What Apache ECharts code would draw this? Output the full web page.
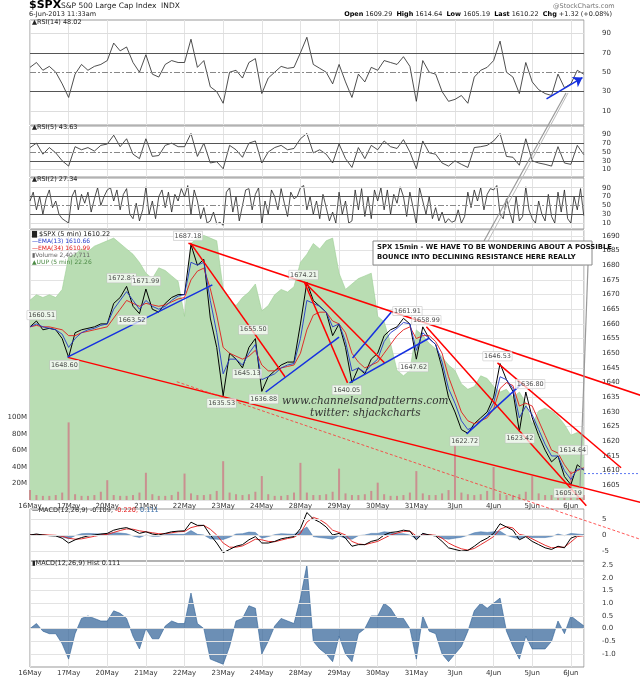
<!DOCTYPE html>
<html><head><meta charset="utf-8">
<script src="https://cdn.jsdelivr.net/npm/echarts@6/dist/echarts.min.js"></script>
<style>html,body{margin:0;padding:0;background:#fff}#c{width:640px;height:679px}</style>
</head><body><div id="c"></div>
<script>
const dayLabels=['16May','17May','20May','21May','22May','23May','24May','28May','29May','30May','31May','3Jun','4Jun','5Jun','6Jun'];
const XMAX=14.34;
const price=[1659,1661,1658,1658.5,1658,1655, 1648.6,1657,1658,1658.5,1659,1660, 1660,1667,1669,1672.8,1666,1663.5, 1671.9,1665,1664,1667,1669,1670, 1670,1687,1680,1682,1662,1652, 1635.5,1650,1648,1645,1652,1655, 1637,1642,1644,1646,1647,1647, 1660,1674.2,1668,1666,1664,1656, 1660,1652,1640,1645,1643,1648, 1650,1656,1658,1659,1661.9,1660, 1648,1659,1655,1653,1645,1635, 1630,1624,1622.7,1626,1628,1630, 1635,1646.5,1641,1637,1623.4,1636.8, 1628,1622,1617,1613,1615,1608, 1605.2,1612,1610.2];
const ema34=[1659,1659.5,1659,1659,1658.5,1658, 1656,1656,1657,1657.5,1658,1658.5, 1659,1662,1665,1668,1667,1666, 1667,1666.5,1666,1666.5,1667.5,1668.5, 1669,1675,1678,1679,1672,1663, 1652,1650,1649,1648,1649,1651, 1646,1644,1644,1645,1645.5,1646, 1650,1658,1663,1664,1664,1661, 1660,1657,1650,1647,1645,1646, 1647,1650,1653,1656,1658,1659, 1655,1656,1656,1654,1650,1642, 1636,1630,1627,1626,1627,1628, 1631,1638,1640,1639,1632,1633, 1632,1627,1622,1617,1616,1612, 1609,1610,1611];
const ema13=[1659,1660,1659,1658.5,1658,1656.5, 1652,1655,1657,1658,1658.5,1659.5, 1660,1665,1668,1671,1668,1665, 1668,1666,1665,1666,1668,1669.5, 1670,1681,1680,1681,1668,1657, 1643,1648,1648,1646,1650,1653, 1641,1642,1643,1645,1646,1646.5, 1655,1668,1667,1666,1664,1659, 1660,1654,1644,1645,1643.5,1646, 1648,1654,1657,1658.5,1660.5,1660, 1651,1657,1655,1653,1647,1638, 1633,1627,1624,1625,1627,1629, 1633,1642,1641,1638,1628,1632, 1629,1624,1619,1615,1615,1610, 1607,1610.5,1610.6];
const uup=[22.76,22.78,22.77,22.78,22.77,22.80, 22.92,22.93,22.95,22.94,22.96,22.97, 22.98,22.99,22.97,22.95,22.93,22.90, 22.86,22.84,22.88,22.87,22.85,22.83, 22.70,22.97,22.99,23.0,22.99,22.98, 22.80,22.76,22.74,22.77,22.79,22.82, 22.72,22.74,22.78,22.80,22.79,22.81, 22.90,22.93,22.97,22.95,22.98,22.99, 22.86,22.80,22.82,22.84,22.85,22.86, 22.70,22.68,22.60,22.50,22.48,22.50, 22.65,22.63,22.60,22.58,22.55,22.52, 22.50,22.45,22.43,22.44,22.48,22.47, 22.44,22.42,22.43,22.40,22.42,22.38, 22.30,22.35,22.36,22.35,22.33,22.30, 22.26,22.27,22.26];
const volume=[12,6,5,5,6,9, 94,7,5,5,6,10, 24,6,5,5,6,9, 33,7,5,5,6,10, 32,8,6,6,7,11, 47,9,7,6,7,10, 29,7,5,5,6,9, 45,9,6,6,7,10, 38,8,6,6,7,11, 21,7,5,5,6,9, 35,8,6,6,8,12, 67,9,7,6,7,11, 40,8,6,6,7,10, 29,8,6,6,7,10, 35,8,6];
const rsi14=[55,60,52,56,50,38, 24,48,58,52,56,58, 62,80,72,76,60,50, 68,48,45,58,62,60, 60,84,55,62,35,30, 18,50,52,44,60,64, 28,44,50,56,54,55, 70,86,58,54,50,38, 58,40,24,48,40,55, 52,62,60,58,66,56, 20,62,50,48,30,20, 22,26,18,45,52,55, 62,82,50,45,28,60, 40,32,28,26,48,34, 38,52,48];
const rsi5=[60,70,45,60,48,30, 18,62,55,60,52,65, 68,88,62,80,45,35, 80,40,42,65,70,62, 62,92,40,70,25,28, 12,65,55,38,70,75, 25,50,60,65,55,58, 80,92,48,55,45,25, 68,35,15,60,35,65, 55,75,62,58,78,50, 12,75,48,45,25,18, 30,22,15,60,62,65, 75,92,40,38,20,80, 30,25,22,18,62,25, 22,65,44];
const rsi2=[60,80,40,70,30,65,85,45,60,30,20,15, 10,70,85,40,75,55,80,35,65,90,50,70, 85,90,60,85,40,75,88,30,20,55,15,40, 92,30,60,20,70,85,45,80,35,75,60,88, 70,95,30,85,60,20,45,10,15,35,8,12, 5,80,90,35,70,15,50,85,88,40,75,90, 8,60,30,85,70,40,88,55,25,80,65,70, 90,95,40,70,30,60,20,75,45,15,35,10, 80,30,60,10,15,85,40,88,25,70,20,85, 60,90,40,85,30,75,55,92,70,25,80,45, 8,90,60,30,70,20,45,15,35,10,20,12, 15,40,10,25,80,45,85,60,90,40,75,88, 85,95,30,20,65,35,10,70,15,25,92,40, 20,10,60,30,15,75,25,10,80,35,85,20, 10,70,40,88,27];
const macd=[0,0.3,0,-0.2,-0.3,-1, -2.5,-1.5,-0.8,-0.3,0,0.3, 0.5,1.5,2,2.3,1.5,0.5, 1,0.3,0,0.5,1,1.2, 1.3,4,3,3,0,-2.5, -5.5,-4.5,-3.5,-3,-1.5,-0.5, -2.5,-2.5,-2,-1.2,-0.8,-0.5, 2,7,5,4,2.5,0, 0.5,-1,-3.5,-3,-3,-2, -1.5,0,0.8,1,1.5,1.2, -1.5,0.5,0,-0.3,-2,-4, -4.5,-5,-4.8,-3.5,-2,-1, 0.5,3.5,2.5,1.5,-1.5,-0.5, -2,-3,-4,-4.5,-3.5,-4, -1,-0.2,-0.109];
const signal=[0,0.1,0.1,0,-0.1,-0.4, -1,-1.3,-1.2,-0.8,-0.4,0, 0.2,0.8,1.4,1.9,1.8,1.3, 1,0.7,0.4,0.4,0.7,1, 1.1,2.3,2.8,3,1.8,0, -2.5,-3.8,-3.8,-3.4,-2.4,-1.3, -1.5,-2,-2.1,-1.6,-1.1,-0.7, 0.5,4,5.5,4.8,3.5,1.5, 0.8,0,-2,-2.8,-3,-2.5, -2,-1,0,0.6,1.1,1.2, -0.3,0,0.1,-0.1,-1,-2.5, -3.5,-4.3,-4.7,-4.2,-3,-1.8, -0.5,1.8,2.6,2.2,0.2,-0.2, -1.2,-2.2,-3.2,-4,-3.8,-3.8, -2.2,-0.5,-0.22];
const hist=[0,0.2,-0.1,-0.2,-0.2,-0.6, -1.2,-0.2,0.4,0.5,0.4,0.3, 0.3,0.7,0.6,0.4,-0.3,-0.8, 0,-0.4,-0.4,0.1,0.3,0.2, 0.2,1.4,0.2,0,-1.2,-1.3, -1.4,-0.7,0.3,0.4,0.9,0.8, -1,-0.5,0.1,0.4,0.3,0.2, 1.2,2.5,-0.5,-0.8,-1,-1.3, -0.3,-1,-1.3,-0.2,0,0.5, 0.5,1,0.8,0.4,0.4,0, -1.2,0.5,-0.1,-0.2,-1,-1.3, -1,-0.7,-0.1,0.7,1,0.8, 1,1.2,-0.1,-0.7,-1.2,-0.3, -0.8,-0.8,-0.8,-0.5,0.3,-0.2, 0.5,0.3,0.111];
const priceLabels=[[0.3,1663,'1660.51'],[0.89,1646,'1648.60'],[2.37,1675.6,'1672.84'],[3.0,1674.6,'1671.99'],[2.64,1661.3,'1663.52'],[4.09,1690,'1687.18'],[4.96,1633,'1635.53'],[5.62,1643,'1645.13'],[5.78,1658,'1655.50'],[6.05,1634.4,'1636.88'],[7.08,1676.7,'1674.21'],[8.2,1637.5,'1640.05'],[9.77,1664.4,'1661.91'],[10.26,1661.3,'1658.99'],[9.93,1645.3,'1647.62'],[11.25,1620,'1622.72'],[12.1,1649,'1646.53'],[12.95,1639.5,'1636.80'],[12.68,1621,'1623.42'],[14.05,1617,'1614.64'],[13.94,1602.4,'1605.19']];
const redLines=[[[4.1,1687.5],[15.8,1635.7]],[[0.98,1648.6],[15.8,1599.2]],[[4.15,1687.6],[6.6,1642]],[[7.1,1674.3],[9.18,1646.7]],[[7.1,1674.3],[8.22,1639.9]],[[10.26,1659],[14.4,1598]],[[12.1,1646.7],[15.3,1611]]];
const dashedRed=[[3.8,1640.3],[15.8,1586.6]];
const blueLines=[[[0.97,1648.7],[4.72,1673.3]],[[6.1,1636.8],[8.0,1655.5]],[[8.27,1639.9],[10.34,1655.2]],[[8.35,1648.4],[9.35,1664]],[[11.3,1622.5],[12.72,1639.5]]];
const rsiArrow=[[13.37,22.5],[14.3,44.5]];

const STEP=1/6;
const pts=(a,s)=>a.map((v,i)=>[i*s,v]);
const L=30,R=56;
const grids=[
 {left:L,right:R,top:20,height:105},
 {left:L,right:R,top:126,height:51},
 {left:L,right:R,top:178,height:51},
 {left:L,right:R,top:230,height:270},
 {left:L,right:R,top:509,height:52},
 {left:L,right:R,top:561,height:106},
 {left:L,right:0,top:230,height:330}
].map(g=>Object.assign({show:true,borderColor:'#999',borderWidth:1,backgroundColor:'transparent'},g));
grids[6].show=false;
const xa=(gi,showLab)=>({type:'value',gridIndex:gi,min:0,max:XMAX,interval:1,
 axisLine:{show:false},axisTick:{show:false},
 splitLine:{show:true,lineStyle:{color:'#e3e3e3',width:1}},
 axisLabel:{show:showLab,fontSize:7,color:'#333',margin:3,fontFamily:'DejaVu Sans',
   formatter:v=>dayLabels[Math.round(v)]||''}});
const xAxis=[xa(0,false),xa(1,false),xa(2,false),xa(3,true),xa(4,false),xa(5,true),
 {type:'value',gridIndex:6,min:0,max:610/((640-L-R)/XMAX),show:false}];
const ya=(gi,min,max,vals,fmt)=>({type:'value',gridIndex:gi,position:'right',min:min,max:max,
 axisLine:{show:false},axisTick:{show:false},splitLine:{show:false},
 axisLabel:{fontSize:7,color:'#333',margin:18,customValues:vals,formatter:fmt||(v=>String(v)),fontFamily:'DejaVu Sans'}});
const yAxis=[
 ya(0,-4.4,103.8,[10,30,50,70,90]),
 ya(1,-6.7,108.9,[10,30,50,70,90]),
 ya(2,-3.3,112,[10,30,50,70,90]),
 Object.assign(ya(3,1600,1692,null),{interval:5,splitLine:{show:true,lineStyle:{color:'#e3e3e3'}},axisLabel:{fontSize:7,color:'#333',margin:18,fontFamily:'DejaVu Sans',formatter:v=>v>=1605&&v<=1690?String(v):''}}),
 {type:'value',gridIndex:3,position:'left',min:0,max:327,axisLine:{show:false},axisTick:{show:false},splitLine:{show:false},
   axisLabel:{fontSize:7,color:'#333',margin:3,customValues:[20,40,60,80,100],formatter:v=>v+'M',fontFamily:'DejaVu Sans'}},
 {type:'value',gridIndex:3,min:22.02,max:23.02,show:false},
 ya(4,-8.1,8.1,[-5,0,5]),
 ya(5,-1.51,2.66,[-1,-0.5,0,0.5,1,1.5,2,2.5],v=>v.toFixed(1)),
 {type:'value',gridIndex:6,min:1692-330/(270/92),max:1692,show:false}
];
const hl=(vals,col,type)=>({silent:true,symbol:'none',label:{show:false},animation:false,
 data:vals.map(v=>({yAxis:v,lineStyle:{color:col(v),type:type?type(v):'solid',width:1}}))});
const rsiLines=hl([10,30,50,70,90],v=>(v==30||v==70)?'#555':(v==50?'#888':'#ddd'),v=>v==50?[6,2,2,2]:'solid');
const ln=(name,data,xi,yi,col,w,extra)=>Object.assign({type:'line',name,data,xAxisIndex:xi,yAxisIndex:yi,symbol:'none',
 lineStyle:{color:col,width:w},animation:false},extra||{});
const series=[
 ln('RSI14',pts(rsi14,STEP),0,0,'#222',0.8,{markLine:rsiLines}),
 ln('RSI5',pts(rsi5,STEP),1,1,'#222',0.8,{markLine:rsiLines}),
 ln('RSI2',pts(rsi2,1/12),2,2,'#222',0.8,{markLine:rsiLines}),
 ln('UUP',pts(uup,STEP),3,5,'#9ccf94',0.6,{areaStyle:{color:'#b9ddb3',origin:'start',opacity:1},z:1}),
 {type:'bar',name:'Volume',data:pts(volume,STEP),xAxisIndex:3,yAxisIndex:4,barWidth:2,itemStyle:{color:'#c99090'},animation:false,z:2},
 ln('Price',pts(price,STEP),3,3,'#000',1,{z:4}),
 ln('EMA34',pts(ema34,STEP),3,3,'#e31b1b',0.9,{z:5}),
 ln('EMA13',pts(ema13,STEP),3,3,'#2338c8',0.9,{z:5}),
 {type:'scatter',data:priceLabels.map(p=>[p[0],p[1],p[2]]),xAxisIndex:3,yAxisIndex:3,symbolSize:0,animation:false,z:8,
  label:{show:true,position:'inside',formatter:p=>p.value[2],fontSize:6.5,color:'#222',backgroundColor:'rgba(255,255,255,0.9)',borderColor:'#bbb',borderWidth:0.5,padding:[1,1],fontFamily:'DejaVu Sans'}},
 ln('MACD',pts(macd,STEP),4,6,'#000',1,{z:4,markLine:hl([-5,0,5],v=>'#e3e3e3')}),
 ln('Signal',pts(signal,STEP),4,6,'#e31b1b',0.9,{z:3}),
 ln('HistS',pts(hist,STEP),4,6,'#3a6ea8',0.5,{areaStyle:{color:'#3a6ea8',origin:0},z:2}),
 ln('Hist',pts(hist,STEP),5,7,'#2d5f96',0.6,{areaStyle:{color:'#2d5f96',origin:0},markLine:hl([-1,-0.5,0,0.5,1,1.5,2,2.5],v=>'#e3e3e3')}),
 ln('RSIarrow',[],0,0,'#1530e0',1.5,{z:6,markLine:{silent:true,animation:false,symbol:['none','arrow'],symbolSize:9,label:{show:false},
   lineStyle:{color:'#1530e0',width:1.5,type:'solid'},data:[[{coord:rsiArrow[0]},{coord:rsiArrow[1]}]]}})
];
redLines.forEach((d,i)=>series.push(ln('r'+i,d,6,8,'#ff0000',1.5,{z:6})));
series.push(ln('rd',dashedRed,6,8,'#ff3030',0.8,{lineStyle:{color:'#ff3030',width:0.8,type:[3,2]},z:6}));
blueLines.forEach((d,i)=>series.push(ln('b'+i,d,6,8,'#1530e0',1.5,{z:6})));
series.push(ln('lastp',[[14.34,1609],[15.8,1609]],6,8,'#3355ee',0.8,{lineStyle:{color:'#3355ee',width:0.8,type:[2,2]}}));
const T=(x,y,text,style)=>({type:'text',left:x,top:y,style:Object.assign({text,fontSize:7,fill:'#222',fontFamily:'DejaVu Sans'},style||{}),z:50});
const chart=echarts.init(document.getElementById('c'),null,{renderer:'canvas'});
chart.setOption({backgroundColor:'#fff',animation:false,grid:grids,xAxis,yAxis,series,
 graphic:[
  T(29,0,'$SPX',{fontSize:11,fontWeight:'bold',fill:'#000'}),
  T(61,2.5,'S&P 500 Large Cap Index  INDX',{fontSize:7.5}),
  T(29,11,'6-Jun-2013 11:33am',{fontSize:6.5}),
  T(553,3,'@StockCharts.com',{fontSize:6.5,fill:'#777'}),
  {type:'text',right:28,top:11,z:50,style:{fontSize:6.5,fontFamily:'DejaVu Sans',fill:'#222',
    text:'{b|Open} 1609.29  {b|High} 1614.64  {b|Low} 1605.19  {b|Last} 1610.22  {b|Chg} +1.32 (+0.08%)',
    rich:{b:{fontWeight:'bold',fontSize:6.5,fontFamily:'DejaVu Sans',fill:'#000'}}}},
  T(32,19,'▲RSI(14) 48.02',{fontSize:6.5}),
  T(32,124,'▲RSI(5) 43.63',{fontSize:6.5}),
  T(32,176,'▲RSI(2) 27.34',{fontSize:6.5}),
  T(32,231,'▇ $SPX (5 min) 1610.22',{fontSize:6.5}),
  T(32,238,'—EMA(13) 1610.66',{fontSize:6,fill:'#2338c8'}),
  T(32,245,'—EMA(34) 1610.99',{fontSize:6,fill:'#e31b1b'}),
  T(32,252,'▮Volume 2,407,711',{fontSize:6,fill:'#666'}),
  T(32,259,'▲UUP (5 min) 22.26',{fontSize:6,fill:'#4c8a45'}),
  {type:'text',left:32,top:507,z:50,style:{fontSize:6.5,fontFamily:'DejaVu Sans',fill:'#222',
    text:'—MACD(12,26,9) -0.109, {r|-0.220,} {bl|0.111}',
    rich:{r:{fill:'#e31b1b',fontSize:6.5,fontFamily:'DejaVu Sans'},bl:{fill:'#3a6ea8',fontSize:6.5,fontFamily:'DejaVu Sans'}}}},
  T(32,560,'▮MACD(12,26,9) Hist 0.111',{fontSize:6.5}),
  {type:'line',shape:{x1:484,y1:241,x2:566,y2:93},style:{stroke:'#999',lineWidth:1.2},z:40},
  {type:'line',shape:{x1:488,y1:241,x2:568,y2:93},style:{stroke:'#bbb',lineWidth:1},z:40},
  {type:'line',shape:{x1:588,y1:265,x2:580,y2:487},style:{stroke:'#999',lineWidth:1.2},z:40},
  {type:'rect',shape:{x:373,y:241,width:219,height:24},style:{fill:'#fff',stroke:'#888',lineWidth:1},z:45},
  T(377,244,'SPX 15min - WE HAVE TO BE WONDERING ABOUT A POSSIBLE',{fontSize:6.8,fontWeight:'bold',fill:'#111'}),
  T(377,254,'BOUNCE INTO DECLINING RESISTANCE HERE REALLY',{fontSize:6.8,fontWeight:'bold',fill:'#111'}),
  T(282,396,'www.channelsandpatterns.com',{fontSize:10.5,fontStyle:'italic',fontFamily:'DejaVu Serif',fill:'#333'}),
  T(310,408,'twitter: shjackcharts',{fontSize:10.5,fontStyle:'italic',fontFamily:'DejaVu Serif',fill:'#333'})
 ]});
</script></body></html>
